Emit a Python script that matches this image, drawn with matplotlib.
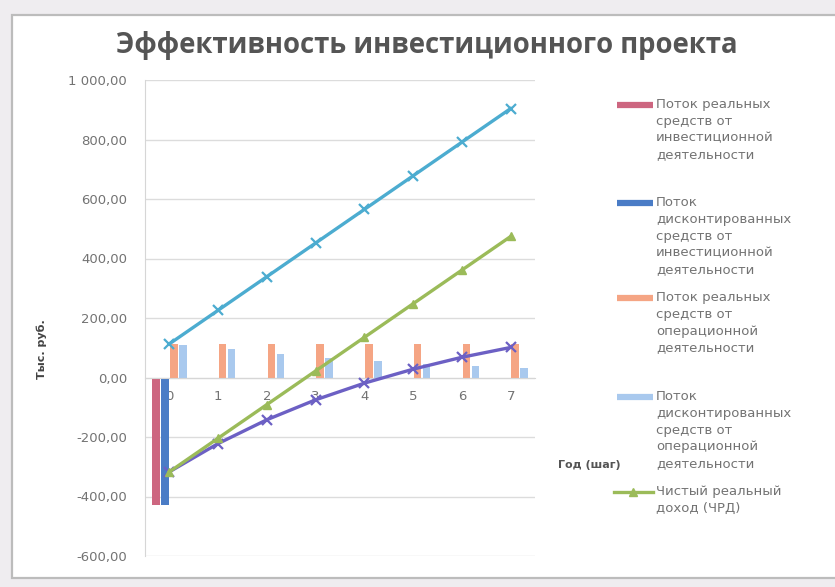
#!/usr/bin/env python3
"""Investment project efficiency: cash flows by year with cumulative income lines."""

import matplotlib

matplotlib.use("Agg")
import matplotlib.pyplot as plt
from matplotlib.lines import Line2D
from matplotlib.patches import Rectangle
from matplotlib.ticker import FuncFormatter

plt.rcParams["font.family"] = ["DejaVu Sans"]

years = [0, 1, 2, 3, 4, 5, 6, 7]

# Bar series (thousand rubles)
inv_real = [-430, 0, 0, 0, 0, 0, 0, 0]
inv_disc = [-430, 0, 0, 0, 0, 0, 0, 0]
op_real = [113, 113, 113, 113, 113, 113, 113, 113]
op_disc = [110, 95, 80, 67, 56, 47, 40, 33]

# Line series
cum_op_real = [113, 226, 339, 452, 565, 678, 791, 904]
net_real = [-317, -204, -91, 22, 135, 248, 361, 474]
net_disc = [-317, -222, -142, -75, -19, 28, 68, 101]

legend_labels = [
    "Поток реальных\nсредств от\nинвестиционной\nдеятельности",
    "Поток\nдисконтированных\nсредств от\nинвестиционной\nдеятельности",
    "Поток реальных\nсредств от\nоперационной\nдеятельности",
    "Поток\nдисконтированных\nсредств от\nоперационной\nдеятельности",
    "Чистый реальный\nдоход (ЧРД)",
]

C_INV_REAL = "#cd6680"
C_INV_DISC = "#4a7cc6"
C_OP_REAL = "#f5a584"
C_OP_DISC = "#a9c9ee"
C_CUM = "#4cacd0"
C_NET_REAL = "#9bbb59"
C_NET_DISC = "#6c60c4"
TEXT_GRAY = "#737373"

fig = plt.figure(figsize=(8.35, 5.87), dpi=100)
fig.patch.set_facecolor("#efedf0")

# white chart area with a thin border
fig.add_artist(Rectangle((12 / 835, 9 / 587), 1.0, 1 - 24 / 587,
                         transform=fig.transFigure, facecolor="white",
                         edgecolor="#bcbcbc", linewidth=1.6, zorder=0))

ax = fig.add_axes([145 / 835, 1 - 556 / 587, 390 / 835, 476 / 587])
ax.set_facecolor("none")

step = 0.185
width = 0.15
series = [(inv_real, C_INV_REAL), (inv_disc, C_INV_DISC),
          (op_real, C_OP_REAL), (op_disc, C_OP_DISC)]
for i, (vals, color) in enumerate(series):
    xs = [y + (i - 1.5) * step for y in years]
    ax.bar(xs, vals, width=width, color=color, zorder=2)

ax.plot(years, cum_op_real, color=C_CUM, linewidth=2.4, marker="x",
        markersize=7, markeredgewidth=1.6, zorder=3)
ax.plot(years, net_disc, color=C_NET_DISC, linewidth=2.4, marker="x",
        markersize=7, markeredgewidth=1.6, zorder=3)
ax.plot(years, net_real, color=C_NET_REAL, linewidth=2.4, marker="^",
        markersize=6, zorder=4)

ax.set_xlim(-0.5, 7.5)
ax.set_ylim(-600, 1000)
ax.set_yticks(range(-600, 1001, 200))
ax.yaxis.set_major_formatter(
    FuncFormatter(lambda v, _: f"{v:,.2f}".replace(",", " ").replace(".", ","))
)
ax.set_xticks(years)
ax.grid(axis="y", color="#dcdcdc", linewidth=1.0, zorder=0)

for side in ("top", "right"):
    ax.spines[side].set_visible(False)
ax.spines["left"].set_color("#d6d6d6")
ax.spines["bottom"].set_position(("data", 0))
ax.spines["bottom"].set_color("#d6d6d6")
ax.tick_params(axis="both", length=0, labelsize=9.5, labelcolor=TEXT_GRAY)
ax.tick_params(axis="y", pad=13)
ax.tick_params(axis="x", pad=9)

fig.text(427 / 835, 1 - 45 / 587, "Эффективность инвестиционного проекта",
         ha="center", va="center", fontsize=19.8, fontweight="bold",
         color="#555555", family=["Open Sans", "DejaVu Sans"])
fig.text(42 / 835, 1 - 349 / 587, "Тыс. руб.", rotation=90, ha="center",
         va="center", fontsize=8, fontweight="bold", color="#444444")
fig.text(558 / 835, 1 - 465 / 587, "Год (шаг)", ha="left", va="center",
         fontsize=8, fontweight="bold", color="#555555")

# legend entries laid out in equal slots, handle next to the first text line
legend_tops = [105, 203, 298, 397, 492]
legend_colors = [C_INV_REAL, C_INV_DISC, C_OP_REAL, C_OP_DISC, C_NET_REAL]
for k, (label, top, color) in enumerate(zip(legend_labels, legend_tops, legend_colors)):
    yf = 1 - top / 587
    if k < 4:
        fig.add_artist(Line2D([617 / 835, 653 / 835], [yf, yf], color=color,
                              linewidth=4.5, solid_capstyle="butt",
                              transform=fig.transFigure))
    else:
        fig.add_artist(Line2D([614 / 835, 653 / 835], [yf, yf], color=color,
                              linewidth=2.4, transform=fig.transFigure))
        fig.add_artist(Line2D([633 / 835], [yf], color=color, marker="^",
                              markersize=6, linestyle="none",
                              transform=fig.transFigure))
    fig.text(656 / 835, yf + 7 / 587, label, ha="left", va="top",
             fontsize=9.5, color=TEXT_GRAY, linespacing=1.38)

fig.savefig("out.png", dpi=100, facecolor=fig.get_facecolor())
